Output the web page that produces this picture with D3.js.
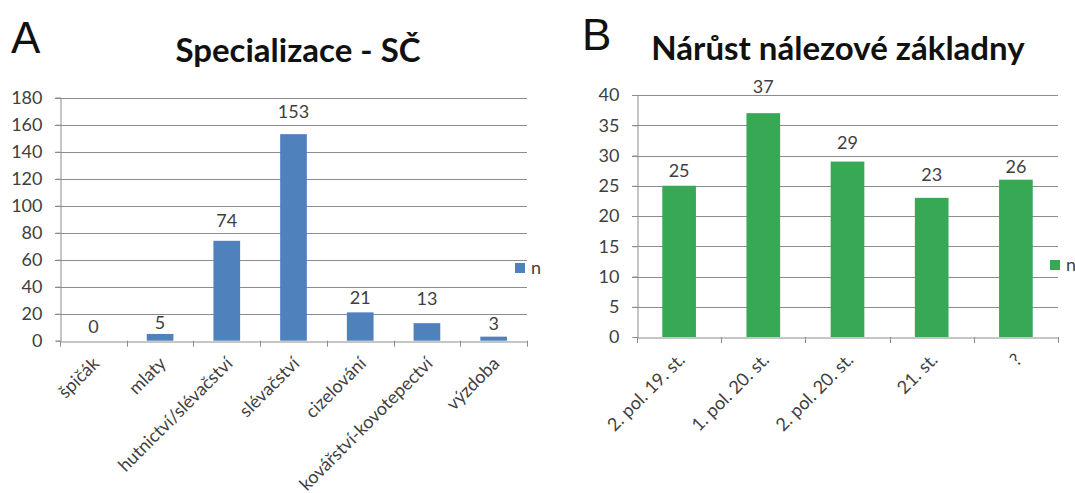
<!DOCTYPE html>
<html>
<head>
<meta charset="utf-8">
<script src="https://cdn.jsdelivr.net/npm/d3@7"></script>
<style>
  html, body { margin: 0; padding: 0; background: #fff; }
  svg { display: block; }
  text { font-family: Lato, "Open Sans", sans-serif; }
</style>
</head>
<body>
<svg id="fig" width="1075" height="493"></svg>
<script>
// Panel A – specialisations
const catsA = ["špičák", "mlaty", "hutnictví/slévačství", "slévačství", "cizelování", "kovářství-kovotepectví", "výzdoba"];
const valsA = [0, 5, 74, 153, 21, 13, 3];
const ticksA = [0, 20, 40, 60, 80, 100, 120, 140, 160, 180];

// Panel B – growth of the find base
const catsB = ["2. pol. 19. st.", "1. pol. 20. st.", "2. pol. 20. st.", "21. st.", "?"];
const valsB = [25, 37, 29, 23, 26];
const ticksB = [0, 5, 10, 15, 20, 25, 30, 35, 40];

const seriesName = "n";

const svg = d3.select("#fig");
const FS = "18px";

function panel(cfg) {
  const g = svg.append("g");
  const x = d3.scaleBand().domain(cfg.cats).range([cfg.left, cfg.right]).paddingInner(0.6).paddingOuter(0.3);
  const band = d3.scaleBand().domain(cfg.cats).range([cfg.left, cfg.right]);
  const y = d3.scaleLinear().domain([0, cfg.max]).range([cfg.bottom, cfg.top]);

  // panel letter
  g.append("text").attr("x", cfg.letterX).attr("y", cfg.letterY)
    .style("font-family", "'Liberation Sans', Arial, sans-serif")
    .style("font-size", "44px").attr("fill", "#111").text(cfg.letter);

  // title
  g.append("text").attr("x", cfg.titleX).attr("y", cfg.titleY)
    .attr("text-anchor", "middle").style("font-size", "33px").style("font-weight", "bold")
    .attr("fill", "#111").text(cfg.title);

  // gridlines
  g.append("g").selectAll("line").data(cfg.ticks.filter(d => d > 0)).join("line")
    .attr("x1", cfg.left - 5).attr("x2", cfg.right)
    .attr("y1", d => Math.round(y(d)) + 0.5).attr("y2", d => Math.round(y(d)) + 0.5)
    .attr("stroke", "#8c8c8c").attr("stroke-width", 1);

  // y axis
  const ya = g.append("g").attr("transform", `translate(${cfg.left + 0.5},0)`)
    .call(d3.axisLeft(y).tickValues(cfg.ticks).tickSize(5).tickPadding(13));
  ya.select(".domain").attr("stroke", "#8c8c8c");
  ya.selectAll(".tick line").attr("stroke", "#8c8c8c");
  ya.selectAll(".tick text").style("font-size", FS).style("font-family", "Lato, sans-serif").attr("fill", "#404040");

  // bars
  g.append("g").selectAll("rect").data(cfg.vals).join("rect")
    .attr("x", (d, i) => x(cfg.cats[i]))
    .attr("width", x.bandwidth())
    .attr("y", d => y(d))
    .attr("height", d => y(0) - y(d))
    .attr("fill", cfg.color);

  // x axis
  const xa = g.append("g").attr("transform", `translate(0,${Math.round(cfg.bottom) + 0.5})`)
    .call(d3.axisBottom(band).tickSize(0).tickFormat(""));
  xa.select(".domain").attr("stroke", "#8c8c8c");
  // category separators
  const bounds = cfg.cats.map(c => band(c)).concat([cfg.right]);
  g.append("g").selectAll("line").data(bounds).join("line")
    .attr("x1", d => Math.round(d) + 0.5).attr("x2", d => Math.round(d) + 0.5)
    .attr("y1", cfg.bottom).attr("y2", cfg.bottom + 6)
    .attr("stroke", "#8c8c8c");

  // category labels
  g.append("g").selectAll("text").data(cfg.cats).join("text")
    .attr("transform", c => `translate(${band(c) + band.bandwidth() / 2 + 7},${cfg.bottom + 24}) rotate(-45)`)
    .attr("text-anchor", "end").style("font-size", FS).attr("fill", "#404040")
    .text(c => c);

  // value labels
  g.append("g").selectAll("text").data(cfg.vals).join("text")
    .attr("x", (d, i) => x(cfg.cats[i]) + x.bandwidth() / 2)
    .attr("y", (d, i) => y(d) - cfg.lift[i])
    .attr("text-anchor", "middle").style("font-size", FS).attr("fill", "#404040")
    .text(d => d);

  // legend
  g.append("rect").attr("x", cfg.legX).attr("y", cfg.legY).attr("width", 10).attr("height", 10).attr("fill", cfg.color);
  g.append("text").attr("x", cfg.legX + 16).attr("y", cfg.legY + 11).style("font-size", FS).attr("fill", "#404040").text(seriesName);
}

panel({
  cats: catsA, vals: valsA, ticks: ticksA, max: 180,
  left: 60, right: 527, top: 97.7, bottom: 340.7,
  color: "#4F81BD", title: "Specializace - SČ", titleX: 298, titleY: 62,
  letter: "A", letterX: 11, letterY: 53,
  lift: [8, 5, 14, 16, 8, 18, 7],
  legX: 515, legY: 263
});

panel({
  cats: catsB, vals: valsB, ticks: ticksB, max: 40,
  left: 637, right: 1058, top: 95, bottom: 337,
  color: "#37A955", title: "Nárůst nálezové základny", titleX: 838, titleY: 60,
  letter: "B", letterX: 582, letterY: 50,
  lift: [9, 20, 13, 17, 7],
  legX: 1050, legY: 260
});
</script>
</body>
</html>
